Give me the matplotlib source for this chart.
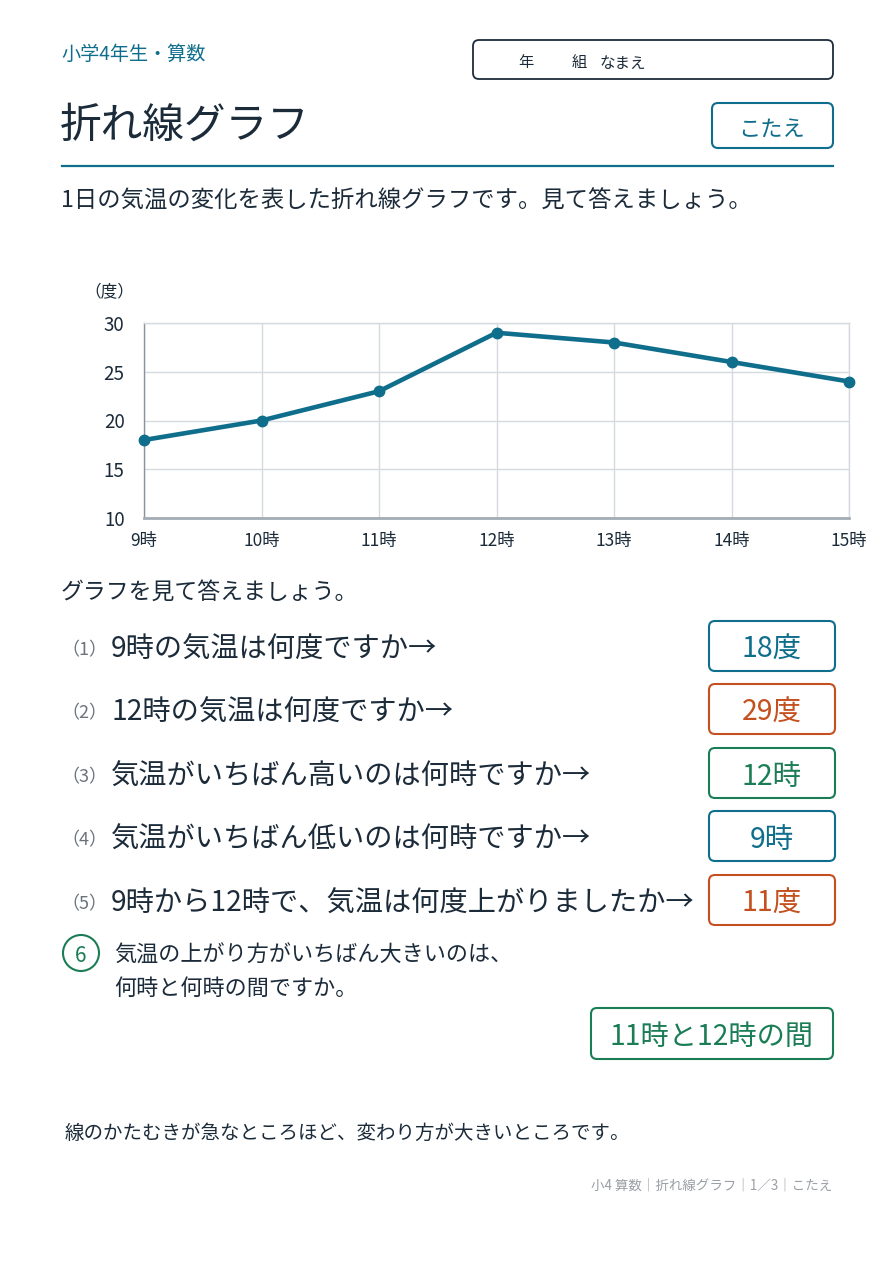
import matplotlib.pyplot as plt
from matplotlib.patches import FancyBboxPatch, Circle

plt.rcParams['font.family'] = ['Noto Sans CJK JP', 'DejaVu Sans']

# chart data
hours = ["9時", "10時", "11時", "12時", "13時", "14時", "15時"]
temps = [18, 20, 23, 29, 28, 26, 24]
y_ticks = [10, 15, 20, 25, 30]

# questions and answers
questions = [
    "9時の気温は何度ですか→",
    "12時の気温は何度ですか→",
    "気温がいちばん高いのは何時ですか→",
    "気温がいちばん低いのは何時ですか→",
    "9時から12時で、気温は何度上がりましたか→",
]
answers = ["18度", "29度", "12時", "9時", "11度"]
answer_colors = ["#0f6e8c", "#c4501f", "#1b7d55", "#0f6e8c", "#c4501f"]

TEAL = "#0f6e8c"
NAVY = "#1c2b3a"
GREEN = "#1b7d55"
W, H = 893, 1263
DY = 4  # text sits a bit high with va=center

fig = plt.figure(figsize=(W / 100, H / 100), dpi=100)
page = fig.add_axes([0, 0, 1, 1])
page.set_xlim(0, W)
page.set_ylim(H, 0)
page.axis("off")


def box(x0, y0, x1, y1, color, lw=1.5):
    p = FancyBboxPatch((x0, y0), x1 - x0, y1 - y0,
                       boxstyle="round,pad=0,rounding_size=6",
                       fc="white", ec=color, lw=lw)
    page.add_patch(p)


def txt(x, y, s, **kw):
    page.text(x, y + DY, s, va="center", **kw)


# header
txt(61, 50, "小学4年生・算数", color=TEAL, fontsize=13.8)
box(473, 40, 833, 79, NAVY, lw=1.3)
txt(518, 59, "年", color=NAVY, fontsize=11)
txt(572, 59, "組", color=NAVY, fontsize=11)
txt(600, 59, "なまえ", color=NAVY, fontsize=11.2)

txt(60, 122, "折れ線グラフ", color=NAVY, fontsize=30)
box(712, 103, 833, 148, TEAL)
txt(772, 125, "こたえ", color=TEAL, fontsize=16, ha="center")
page.plot([62, 833], [166, 166], color=TEAL, lw=1.6)

txt(61, 197, "1日の気温の変化を表した折れ線グラフです。見て答えましょう。",
    color=NAVY, fontsize=16.8)

# chart
ax = fig.add_axes([144 / W, 1 - 518 / H, 705 / W, 195 / H])
x = list(range(len(hours)))
ax.plot(x, temps, color=TEAL, lw=3.3, marker="o", markersize=7.5, clip_on=False, zorder=3)
ax.set_xlim(0, len(hours) - 1)
ax.set_ylim(10, 30)
ax.set_xticks(x)
ax.set_xticklabels(hours)
ax.set_yticks(y_ticks)
ax.grid(True, color="#d5dade", lw=1)
for s in ["top", "right"]:
    ax.spines[s].set_color("#d5dade")
    ax.spines[s].set_linewidth(1)
ax.spines["left"].set_color("#8a939c")
ax.spines["left"].set_linewidth(1)
ax.spines["bottom"].set_color("#a4acb4")
ax.spines["bottom"].set_linewidth(2)
ax.tick_params(length=0, colors=NAVY)
ax.tick_params(axis="y", labelsize=13.5, pad=14)
ax.tick_params(axis="x", labelsize=12.5, pad=10)
txt(84, 289, "（度）", color=NAVY, fontsize=12)

# questions
txt(61, 588, "グラフを見て答えましょう。", color=NAVY, fontsize=16.5)
q_y = [646, 709, 773, 836, 900]
for i, (q, a, c, yy) in enumerate(zip(questions, answers, answer_colors, q_y)):
    txt(61, yy, f"（{i + 1}）", color="#6b747c", fontsize=13)
    txt(111, yy, q, color=NAVY, fontsize=20.3)
    box(709, yy - 25, 835, yy + 25, c)
    txt(772, yy, a, color=c, fontsize=20.5, ha="center")

# question 6
page.add_patch(Circle((81, 953), 18, fc="white", ec=GREEN, lw=1.5))
txt(81, 952, "6", color=GREEN, fontsize=15, ha="center")
txt(114, 952, "気温の上がり方がいちばん大きいのは、", color=NAVY, fontsize=15.9)
txt(114, 985, "何時と何時の間ですか。", color=NAVY, fontsize=15.9)
box(591, 1008, 833, 1059, GREEN)
txt(712, 1033, "11時と12時の間", color=GREEN, fontsize=20.3, ha="center")

txt(65, 1129, "線のかたむきが急なところほど、変わり方が大きいところです。",
    color=NAVY, fontsize=14)
txt(832, 1182, "小4 算数｜折れ線グラフ｜1／3｜こたえ", color="#9a9fa5",
    fontsize=9.7, ha="right")

fig.savefig("out.png", dpi=100, facecolor="white")
